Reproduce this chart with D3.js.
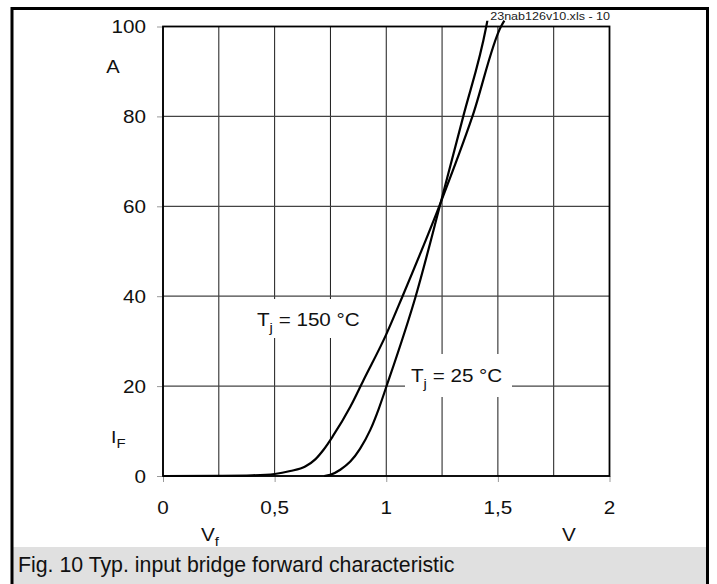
<!DOCTYPE html>
<html><head><meta charset="utf-8">
<script src="https://cdn.jsdelivr.net/npm/d3@7/dist/d3.min.js"></script>
<style>
html,body{margin:0;padding:0;background:#fff;}
svg{display:block;font-family:"Liberation Sans",Arial,sans-serif;}
</style></head>
<body>
<svg id="c" width="717" height="584"></svg>
<script>
// Data
const xTicks = [0, 0.5, 1, 1.5, 2];
const xTickLabels = ["0", "0,5", "1", "1,5", "2"];
const xGrid = [0, 0.25, 0.5, 0.75, 1, 1.25, 1.5, 1.75, 2];
const yTicks = [0, 20, 40, 60, 80, 100];
const yTickLabels = ["0", "20", "40", "60", "80", "100"];
const vf150 = [0, 0.25, 0.4, 0.5, 0.57, 0.637, 0.682, 0.72, 0.76, 0.839, 0.898, 1.0, 1.073, 1.245, 1.386, 1.514, 1.529];
const if150 = [0, 0.05, 0.15, 0.45, 1.1, 2.1, 3.7, 5.9, 8.8, 15.4, 21.3, 31.5, 40, 61, 80, 100, 101.3];
const vf25 = [0.722, 0.749, 0.794, 0.839, 0.883, 0.928, 0.966, 1.0, 1.132, 1.245, 1.345, 1.448, 1.453];
const if25 = [0, 0.25, 1.4, 3.2, 6.1, 10.2, 14.9, 19.8, 40, 61, 80, 100, 101.3];

const svg = d3.select("#c");
const x = d3.scaleLinear().domain([0, 2]).range([163, 609.5]);
const y = d3.scaleLinear().domain([0, 100]).range([476, 26.5]);
const INK = "#111";

function txt(px, py, size, anchor, sx) {
  return svg.append("g").attr("transform", `translate(${px},${py})`)
    .append("text").attr("transform", `scale(${sx},1)`).attr("font-size", size)
    .attr("text-anchor", anchor).attr("fill", INK);
}

// caption band
svg.append("rect").attr("x", 13).attr("y", 547).attr("width", 695).attr("height", 37).attr("fill", "#e0e0e0");
txt(18, 572, 21.3, "start", 1).text("Fig. 10 Typ. input bridge forward characteristic");

// outer frame
svg.append("path").attr("d", "M12,584 V8.5 H707.5 V584").attr("fill", "none").attr("stroke", "#000").attr("stroke-width", 3);

// grid
const g = svg.append("g");
g.selectAll("line.v").data(xGrid).join("line")
  .attr("x1", d => x(d)).attr("x2", d => x(d)).attr("y1", y(0)).attr("y2", y(100))
  .attr("stroke", "#1a1a1a").attr("stroke-width", 1);
g.selectAll("line.h").data(yTicks).join("line")
  .attr("x1", x(0)).attr("x2", x(2)).attr("y1", d => y(d)).attr("y2", d => y(d))
  .attr("stroke", "#444").attr("stroke-width", 1.2);

// axis tick marks (outside)
const axG = svg.append("g").attr("transform", `translate(0,${y(0)})`)
  .call(d3.axisBottom(x).tickValues(xTicks).tickSize(6).tickFormat(""));
const ayG = svg.append("g").attr("transform", `translate(${x(0)},0)`)
  .call(d3.axisLeft(y).tickValues(yTicks).tickSize(6).tickFormat(""));
[axG, ayG].forEach(a => {
  a.select(".domain").remove();
  a.selectAll(".tick line").attr("stroke", "#999");
});

// tick labels
xTicks.forEach((v, i) => txt(x(v), 514, 18, "middle", 1.15).text(xTickLabels[i]));
yTicks.forEach((v, i) => txt(146, y(v) + 6.5, 18, "end", 1.15).text(yTickLabels[i]));

// plot border
svg.append("rect").attr("x", x(0)).attr("y", y(100)).attr("width", x(2) - x(0)).attr("height", y(0) - y(100))
  .attr("fill", "none").attr("stroke", "#000").attr("stroke-width", 1.8);

// label boxes
svg.append("rect").attr("x", 250).attr("y", 299).attr("width", 122).attr("height", 39).attr("fill", "#fff");
svg.append("rect").attr("x", 405).attr("y", 354).attr("width", 107).attr("height", 43).attr("fill", "#fff");

// curves
const line = d3.line().x(d => x(d[0])).y(d => y(d[1])).curve(d3.curveMonotoneX);
const s150 = vf150.map((v, i) => [v, if150[i]]);
const s25 = vf25.map((v, i) => [v, if25[i]]);
[s150, s25].forEach(s => {
  svg.append("path").datum(s).attr("d", line).attr("fill", "none").attr("stroke", "#000")
    .attr("stroke-width", 2.2).attr("stroke-linejoin", "round");
});

// series labels
function tj(px, py, rest) {
  const t = txt(px, py, 17.5, "start", 1.18);
  t.append("tspan").text("T");
  t.append("tspan").attr("font-size", 12.5).attr("dy", 6).text("j");
  t.append("tspan").attr("dy", -6).text(rest);
}
tj(257, 326, " = 150 °C");
tj(411, 382, " = 25 °C");

// axis titles
txt(113, 73, 17.5, "middle", 1.15).text("A");
const iF = txt(111, 443, 17, "start", 1.15);
iF.append("tspan").text("I");
iF.append("tspan").attr("font-size", 13).attr("dy", 5).text("F");
const vF = txt(201, 541, 18, "start", 1.15);
vF.append("tspan").text("V");
vF.append("tspan").attr("font-size", 13).attr("dy", 5).text("f");
txt(569, 541, 18, "middle", 1.15).text("V");

// file tag
txt(610, 20, 11, "end", 1.14).attr("fill", "#222").text("23nab126v10.xls - 10");
</script>
</body></html>
